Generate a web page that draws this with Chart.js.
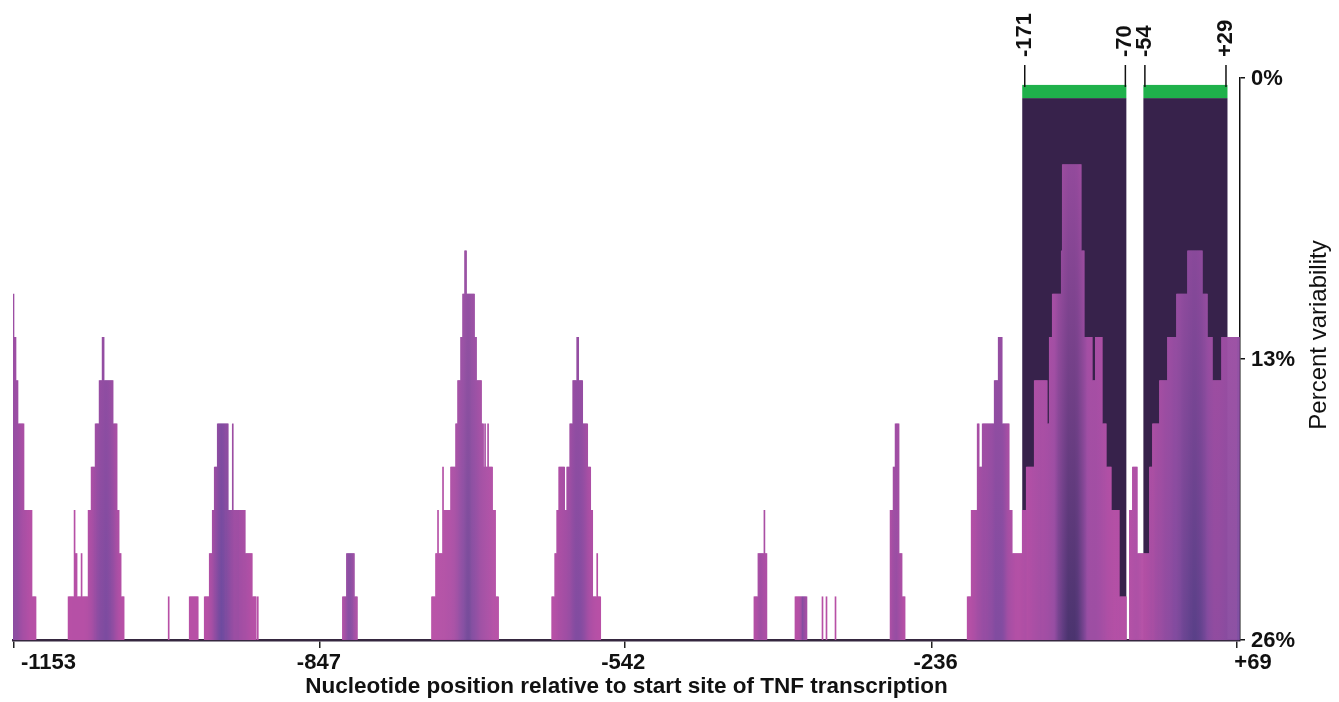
<!DOCTYPE html>
<html>
<head>
<meta charset="utf-8">
<script src="https://cdn.jsdelivr.net/npm/chart.js@4.4.0/dist/chart.umd.min.js"></script>
<style>
  html, body { margin: 0; padding: 0; background: #fff; }
  #wrap { width: 1339px; height: 702px; }
</style>
</head>
<body>
<div id="wrap"><canvas id="chart"></canvas></div>
<script>
// runs of constant percent variability along the promoter: first position, last position, value (%)
const runStart = [
  -1153, -1152, -1150, -1148, -1142, -1134,
  -1098, -1092, -1091, -1089, -1085, -1084, -1078, -1075, -1071, -1067, -1064, -1062, -1053, -1049, -1047, -1045,
  -998, -977, -962, -957, -954, -952, -949, -938, -934, -933, -921, -914, -909,
  -824, -820, -812,
  -735, -731, -729, -728, -724, -723, -716, -711, -709, -706, -704, -702, -700, -692, -690, -685, -683, -682, -681, -679, -678, -674, -671,
  -615, -612, -610, -608, -602, -600, -597, -594, -590, -588, -584, -579, -576, -574, -570, -569,
  -413, -409, -403, -402,
  -372, -345, -341, -332,
  -277, -274, -272, -268, -265,
  -200, -196, -190, -188, -185, -173, -169, -165, -158, -155,
  -145, -141, -133, -120, -118, -115, -106, -105, -86, -83, -75, -72, -65, -61, -56, -48,
  -38, -35, -30,
  -24, -18, -15, -8, 0, 9, 20, 35, 40, 45, 54
];
const runEnd = [
  -1153, -1151, -1149, -1143, -1135, -1131,
  -1093, -1092, -1090, -1086, -1085, -1079, -1076, -1072, -1068, -1065, -1063, -1054, -1050, -1048, -1046, -1043,
  -998, -969, -958, -955, -953, -950, -939, -935, -934, -922, -915, -911, -909,
  -821, -813, -810,
  -732, -730, -729, -725, -724, -717, -712, -710, -707, -705, -703, -701, -693, -691, -686, -684, -683, -682, -680, -679, -675, -672, -669,
  -613, -611, -609, -603, -601, -598, -595, -591, -589, -585, -580, -577, -575, -571, -570, -567,
  -410, -404, -403, -401,
  -361, -345, -341, -332,
  -275, -273, -269, -266, -263,
  -197, -191, -189, -186, -174, -170, -166, -159, -156, -146,
  -142, -134, -121, -119, -116, -107, -106, -87, -84, -76, -73, -66, -62, -57, -49, -42,
  -36, -31, -25,
  -19, -16, -9, -1, 8, 19, 34, 39, 44, 53, 71
];
const runValue = [
  10, 12, 14, 16, 20, 24,
  24, 20, 22, 24, 22, 24, 20, 18, 16, 14, 12, 14, 16, 20, 22, 24,
  24, 24, 24, 22, 20, 18, 16, 20, 16, 20, 22, 24, 24,
  24, 22, 24,
  24, 22, 20, 22, 18, 20, 18, 16, 14, 12, 10, 8, 10, 12, 14, 16, 18, 16, 18, 16, 18, 20, 24,
  24, 22, 20, 18, 20, 18, 16, 14, 12, 14, 16, 18, 20, 24, 22, 24,
  24, 22, 20, 22,
  24, 24, 24, 24,
  20, 18, 16, 22, 24,
  24, 20, 16, 18, 16, 14, 12, 16, 20, 22,
  20, 18, 14, 16, 12, 10, 8, 4, 8, 12, 14, 12, 16, 18, 20, 24,
  20, 18, 22,
  22, 18, 16, 14, 12, 10, 8, 10, 12, 14, 12
];

// axis ticks
const xTickValues = [-1153, -847, -542, -236, 69];
const xTickLabels = ['-1153', '-847', '-542', '-236', '+69'];
const yTickValues = [0, 13, 26];

// highlighted regions and their bracket labels
const regionStart = [-145.5, -24.5];
const regionEnd = [-41.5, 59.5];
const bracketPos = [-143, -42.5, -23, 58];
const bracketLabels = ['-171', '-70', '-54', '+29'];

const FONT = "'Liberation Sans', Arial, sans-serif";

// expand runs to one value per nucleotide
const firstPos = -1153, lastPos = 71;
const perPos = [];
for (let p = firstPos; p <= lastPos; p++) perPos.push(null);
runStart.forEach((s, r) => {
  for (let p = s; p <= runEnd[r]; p++) perPos[p - firstPos] = runValue[r];
});

// colour each column: pink at the flanks of a peak, violet towards its centre
const heights = perPos.map(v => v === null ? 0 : 26 - v);
const pink = [184, 80, 166], violet = [104, 74, 158], deep = [56, 38, 82];
const mix = (a, b, t) => a.map((c, k) => Math.round(c + (b[k] - c) * t));
const rgb = c => `rgb(${c[0]},${c[1]},${c[2]})`;

const points = [], colBottom = [], colTop = [];
perPos.forEach((v, i) => {
  if (v === null) return;
  let sum = 0, n = 0, mx = 0;
  for (let j = i - 6; j <= i + 6; j++) if (j >= 0 && j < heights.length) { sum += heights[j]; n++; }
  for (let j = i - 35; j <= i + 35; j++) if (j >= 0 && j < heights.length) mx = Math.max(mx, heights[j]);
  const s = sum / n;
  const t = Math.min(1, Math.pow(s / mx, 2.2));
  let bottom = mix(pink, violet, t);
  const d = Math.max(0, Math.min(1, (s - 15) / 8)) * 0.7;
  bottom = mix(bottom, deep, d);
  const top = mix(pink, violet, t * 0.3);
  points.push({ x: firstPos + i, y: [26, v] });
  colBottom.push(rgb(bottom));
  colTop.push(rgb(top));
});

const overlay = {
  id: 'overlay',
  beforeDatasetsDraw(chart) {
    const { ctx, scales: { x, y } } = chart;
    ctx.save();
    regionStart.forEach((s, i) => {
      const x0 = x.getPixelForValue(s), x1 = x.getPixelForValue(regionEnd[i]);
      ctx.fillStyle = '#37224b';
      ctx.fillRect(x0, y.getPixelForValue(0.93), x1 - x0, y.getPixelForValue(26) - y.getPixelForValue(0.93));
      ctx.fillStyle = '#1fb14b';
      ctx.fillRect(x0, y.getPixelForValue(0.32), x1 - x0, y.getPixelForValue(0.93) - y.getPixelForValue(0.32));
    });
    ctx.restore();
  },
  afterDraw(chart) {
    const { ctx, scales: { x } } = chart;
    ctx.save();
    ctx.fillStyle = '#111';
    ctx.strokeStyle = '#111';
    ctx.lineWidth = 1.5;
    // brackets above the regions
    bracketPos.forEach((p, i) => {
      const px = x.getPixelForValue(p);
      ctx.beginPath();
      ctx.moveTo(px, 65);
      ctx.lineTo(px, 87);
      ctx.stroke();
      ctx.save();
      ctx.translate(px, 57);
      ctx.rotate(-Math.PI / 2);
      ctx.font = `bold 22px ${FONT}`;
      ctx.textAlign = 'left';
      ctx.textBaseline = 'middle';
      ctx.fillText(bracketLabels[i], 0, 0);
      ctx.restore();
    });
    // x tick labels
    const shift = [35, -1, -2, 4, 16];
    ctx.font = `bold 22px ${FONT}`;
    ctx.textAlign = 'center';
    ctx.textBaseline = 'middle';
    xTickValues.forEach((v, i) => {
      ctx.fillText(xTickLabels[i], x.getPixelForValue(v) + shift[i], 663);
    });
    // right-hand axis title, reading upwards
    ctx.save();
    ctx.translate(1319, 335);
    ctx.rotate(-Math.PI / 2);
    ctx.font = `24px ${FONT}`;
    ctx.fillText('Percent variability', 0, 0);
    ctx.restore();
    ctx.restore();
  }
};

new Chart(document.getElementById('chart'), {
  type: 'bar',
  data: {
    datasets: [{
      data: points,
      backgroundColor: c => {
        const area = c.chart.chartArea;
        if (!area) return colBottom[c.dataIndex];
        const g = c.chart.ctx.createLinearGradient(0, area.bottom, 0, area.top);
        g.addColorStop(0, colBottom[c.dataIndex]);
        g.addColorStop(1, colTop[c.dataIndex]);
        return g;
      },
      borderWidth: 0,
      barPercentage: 1,
      categoryPercentage: 1
    }]
  },
  options: {
    responsive: true,
    maintainAspectRatio: false,
    animation: false,
    layout: { padding: { top: 78, left: 13, right: 0, bottom: 0 } },
    plugins: { legend: { display: false }, tooltip: { enabled: false } },
    scales: {
      x: {
        type: 'linear',
        offset: false,
        min: -1153.5,
        max: 72,
        afterBuildTicks: s => { s.ticks = xTickValues.map(v => ({ value: v })); },
        afterFit: s => { s.height = 62; s.paddingLeft = 0; s.paddingRight = 0; },
        ticks: { autoSkip: false, maxRotation: 0, callback: () => '', font: { size: 22 } },
        grid: { offset: false, drawOnChartArea: false, tickLength: 8, color: '#222', lineWidth: 1.5 },
        border: { color: '#35273f', width: 2.5 },
        title: {
          display: true,
          text: 'Nucleotide position relative to start site of TNF transcription',
          color: '#111',
          font: { family: FONT, size: 22.5, weight: 'bold' },
          padding: { top: 0, bottom: 2 }
        }
      },
      y: {
        type: 'linear',
        position: 'right',
        reverse: true,
        min: 0,
        max: 26,
        afterBuildTicks: s => { s.ticks = yTickValues.map(v => ({ value: v })); },
        afterFit: s => { s.width = 99; },
        ticks: {
          callback: v => v + '%',
          color: '#111',
          padding: 6,
          labelOffset: 1,
          font: { family: FONT, size: 22, weight: 'bold' }
        },
        grid: { drawOnChartArea: false, tickLength: 5, color: '#111', lineWidth: 1.5 },
        border: { color: '#111', width: 1.5 }
      }
    }
  },
  plugins: [overlay]
});
</script>
</body>
</html>
